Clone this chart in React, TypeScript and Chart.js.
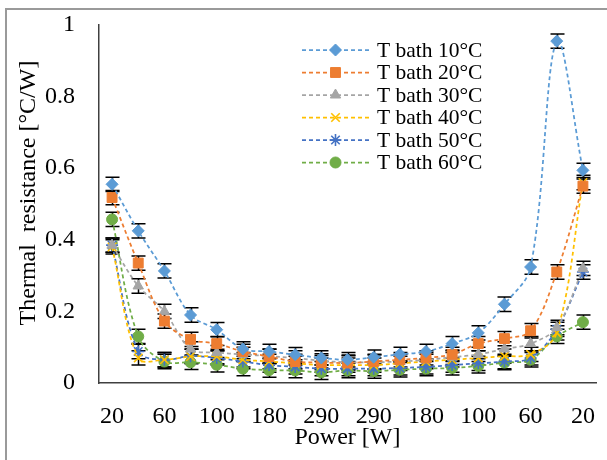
import React, { useEffect, useRef } from 'react';
import { Chart, registerables } from 'chart.js';
import { drawPoint } from 'chart.js/helpers';

Chart.register(...registerables);

// x categories (only every other power level is labelled on the axis)
const powerLabels = ['20', '', '60', '', '100', '', '180', '', '290', '', '290', '', '180', '', '100', '', '60', '', '20'];

const seriesNames = ['T bath 10°C', 'T bath 20°C', 'T bath 30°C', 'T bath 40°C', 'T bath 50°C', 'T bath 60°C'];

const bath10 = [0.555, 0.425, 0.313, 0.19, 0.149, 0.095, 0.088, 0.079, 0.07, 0.065, 0.072, 0.08, 0.088, 0.11, 0.14, 0.22, 0.324, 0.955, 0.594];
const bath20 = [0.518, 0.335, 0.173, 0.122, 0.11, 0.088, 0.074, 0.06, 0.057, 0.056, 0.06, 0.065, 0.07, 0.08, 0.11, 0.124, 0.146, 0.31, 0.55];
const bath30 = [0.385, 0.271, 0.2, 0.095, 0.085, 0.08, 0.075, 0.07, 0.062, 0.058, 0.058, 0.06, 0.065, 0.072, 0.08, 0.095, 0.11, 0.155, 0.32];
const bath40 = [0.38, 0.07, 0.065, 0.074, 0.074, 0.065, 0.06, 0.055, 0.05, 0.05, 0.05, 0.055, 0.06, 0.065, 0.07, 0.075, 0.08, 0.14, 0.56];
const bath50 = [0.385, 0.088, 0.065, 0.075, 0.07, 0.06, 0.05, 0.045, 0.04, 0.04, 0.04, 0.042, 0.045, 0.05, 0.055, 0.06, 0.07, 0.15, 0.31];
const bath60 = [0.457, 0.13, 0.06, 0.058, 0.051, 0.04, 0.036, 0.035, 0.03, 0.035, 0.033, 0.037, 0.04, 0.042, 0.048, 0.057, 0.065, 0.13, 0.17];

const errorMargin = [0.02, 0.02, 0.02, 0.02, 0.02, 0.02];

const yTicks = [0, 0.2, 0.4, 0.6, 0.8, 1];

const xTitle = 'Power [W]';
const yTitle = 'Thermal  resistance [°C/W]';

const colors = ['#5B9BD5', '#ED7D31', '#A5A5A5', '#FFC000', '#4472C4', '#70AD47'];
const pointStyles = ['rectRot', 'rect', 'triangle', 'crossRot', 'star', 'circle'];
const pointRadii = [6, 7, 6, 6, 6, 5.5];

const FONT = "'Liberation Serif', 'Times New Roman', serif";

const framePlugin = {
  id: 'frame',
  beforeDraw(chart: any) {
    const { ctx, width, height } = chart;
    ctx.save();
    ctx.fillStyle = '#ffffff';
    ctx.fillRect(0, 0, width, height);
    ctx.strokeStyle = '#9a9a9a';
    ctx.lineWidth = 2;
    ctx.beginPath();
    ctx.moveTo(6, height + 5);
    ctx.lineTo(6, 9);
    ctx.lineTo(width + 5, 9);
    ctx.stroke();
    ctx.restore();
  },
};

const errorBarPlugin = {
  id: 'errorBars',
  beforeDatasetsDraw(chart: any) {
    const { ctx } = chart;
    const yScale = chart.scales.y;
    ctx.save();
    ctx.strokeStyle = '#000000';
    ctx.lineWidth = 1.5;
    chart.data.datasets.forEach((ds: any, di: number) => {
      const meta = chart.getDatasetMeta(di);
      const err = errorMargin[di];
      meta.data.forEach((pt: any, i: number) => {
        const v = ds.data[i];
        const x = Math.round(pt.x) + 0.5;
        const yHi = yScale.getPixelForValue(v + err);
        const yLo = yScale.getPixelForValue(v - err);
        ctx.beginPath();
        ctx.moveTo(x, yHi);
        ctx.lineTo(x, yLo);
        ctx.moveTo(x - 7, yHi);
        ctx.lineTo(x + 7, yHi);
        ctx.moveTo(x - 7, yLo);
        ctx.lineTo(x + 7, yLo);
        ctx.stroke();
      });
    });
    ctx.restore();
  },
};

const overlayPlugin = {
  id: 'overlay',
  afterDraw(chart: any) {
    const { ctx, chartArea } = chart;
    ctx.save();
    // y axis title
    ctx.translate(29, (chartArea.top + chartArea.bottom) / 2 - 11);
    ctx.rotate(-Math.PI / 2);
    ctx.fillStyle = '#000000';
    ctx.font = `24px ${FONT}`;
    ctx.textAlign = 'center';
    ctx.textBaseline = 'middle';
    ctx.fillText(yTitle, 0, 0);
    ctx.restore();

    ctx.save();
    chart.data.datasets.forEach((ds: any, i: number) => {
      const y = 50 + 22.5 * i;
      ctx.strokeStyle = ds.borderColor;
      ctx.lineWidth = 1.75;
      ctx.setLineDash([4, 3]);
      ctx.beginPath();
      ctx.moveTo(302, y);
      ctx.lineTo(369, y);
      ctx.stroke();
      ctx.setLineDash([]);
      ctx.fillStyle = ds.pointBackgroundColor;
      ctx.strokeStyle = ds.pointBorderColor;
      ctx.lineWidth = ds.pointBorderWidth;
      drawPoint(ctx, { pointStyle: ds.pointStyle, radius: ds.pointRadius, borderWidth: ds.pointBorderWidth, rotation: 0 } as any, 335.5, y);
      ctx.fillStyle = '#000000';
      ctx.font = `21.5px ${FONT}`;
      ctx.textAlign = 'left';
      ctx.textBaseline = 'middle';
      ctx.fillText(ds.label, 377, y + 1);
    });
    ctx.restore();
  },
};

export default function App() {
  const canvasRef = useRef<HTMLCanvasElement | null>(null);

  useEffect(() => {
    if (!canvasRef.current) return;
    const series = [bath10, bath20, bath30, bath40, bath50, bath60];
    const chart = new Chart(canvasRef.current, {
      type: 'line',
      data: {
        labels: powerLabels,
        datasets: series.map((d, i) => ({
          label: seriesNames[i],
          data: d,
          borderColor: colors[i],
          backgroundColor: colors[i],
          pointBackgroundColor: colors[i],
          pointBorderColor: colors[i],
          pointBorderWidth: pointStyles[i] === 'crossRot' || pointStyles[i] === 'star' ? 1.6 : 1,
          pointStyle: pointStyles[i] as any,
          pointRadius: pointRadii[i],
          borderWidth: 1.75,
          borderDash: [4, 3],
          tension: 0.35,
          fill: false,
        })),
      },
      options: {
        responsive: false,
        animation: false,
        layout: { padding: { left: 0, right: 11, top: 25, bottom: 0 } },
        plugins: {
          legend: { display: false },
          tooltip: { enabled: false },
        },
        scales: {
          x: {
            type: 'category',
            offset: true,
            grid: { display: false, drawTicks: false, offset: true },
            border: { display: true, color: '#404040', width: 1.5 },
            ticks: {
              autoSkip: false,
              maxRotation: 0,
              padding: 19,
              color: '#000000',
              font: { family: FONT, size: 24 },
              callback: (_v: any, i: number) => powerLabels[i],
            },
            title: {
              display: true,
              text: xTitle,
              color: '#000000',
              font: { family: FONT, size: 24 },
              padding: { top: 0, bottom: 8 },
            },
            afterFit: (scale: any) => {
              scale.height = 77;
              scale.paddingLeft = 0;
              scale.paddingRight = 0;
            },
          },
          y: {
            min: 0,
            max: 1,
            afterBuildTicks: (scale: any) => {
              scale.ticks = yTicks.map((v) => ({ value: v }));
            },
            grid: { display: false, drawTicks: false },
            border: { display: true, color: '#404040', width: 1.5 },
            ticks: {
              padding: 24,
              color: '#000000',
              font: { family: FONT, size: 24 },
              callback: (v: any) => String(Number(Number(v).toFixed(1))),
            },
            afterFit: (scale: any) => {
              scale.width = 99;
              scale.paddingTop = 0;
              scale.paddingBottom = 0;
            },
          },
        },
      },
      plugins: [framePlugin, errorBarPlugin, overlayPlugin],
    });
    return () => chart.destroy();
  }, []);

  return (
    <div style={{ position: 'fixed', left: 0, top: 0, width: 607, height: 460 }}>
      <canvas ref={canvasRef} width={607} height={460} style={{ display: 'block' }} />
    </div>
  );
}
